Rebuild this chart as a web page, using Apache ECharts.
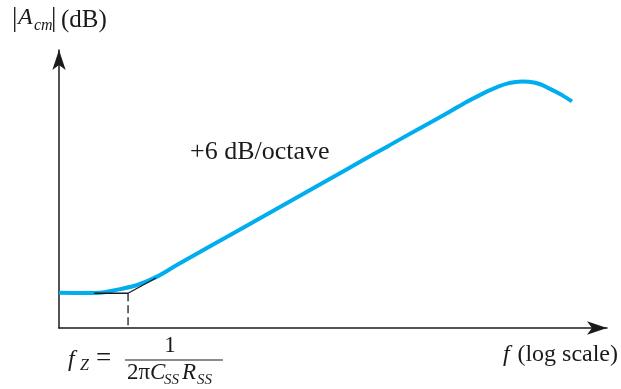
<!DOCTYPE html>
<html>
<head>
<meta charset="utf-8">
<script src="https://cdn.jsdelivr.net/npm/echarts@6/dist/echarts.min.js"></script>
<style>html,body{margin:0;padding:0;background:#fff}#c{width:621px;height:389px}</style>
</head>
<body>
<div id="c"></div>
<script>
// log-frequency position (0..100) and gain (0..100, arbitrary dB units)
var curveX = [0, 5.5, 10.9, 16.4, 21.9, 27.4, 32.8, 38.3, 43.8, 49.3, 54.7, 60.2, 65.7, 71.2, 73.9, 76.6, 79.4, 82.1, 84.5, 86.9, 89.6, 92.0, 93.6];
var curveY = [12.7, 12.6, 13.9, 17.1, 23.1, 29.2, 35.2, 41.3, 47.4, 53.5, 59.5, 65.6, 71.7, 77.7, 80.8, 83.6, 86.2, 88.1, 88.7, 88.2, 86.0, 83.5, 81.5];
var asymX = [6.4, 12.6, 17.7];
var asymY = [12.5, 12.5, 18.0];
var zeroX = [12.6, 12.6];
var zeroY = [12.5, 0];
var slopeLabel = '+6 dB/octave';
var xLabel = ['f', '(log scale)'];

function pairs(xs, ys){ return xs.map(function(x,i){ return [x, ys[i]]; }); }

var F = '"Liberation Serif", "Times New Roman", serif';
var ink = '#1a1a1a';
function t(text, x, y, size, opts){
  opts = opts || {};
  return { type:'text', x:x, y:y, silent:true, style:{ text:text, font:(opts.italic?'italic ':'') + size + 'px ' + F, fill:ink, textAlign:opts.align||'left', textVerticalAlign:'middle' } };
}

var chart = echarts.init(document.getElementById('c'), null, {renderer:'canvas'});
chart.setOption({
  animation:false,
  backgroundColor:'#fff',
  grid:{ left:59, right:14, top:50, bottom:61 },
  xAxis:{ type:'value', min:0, max:100, axisLabel:{show:false}, axisTick:{show:false}, splitLine:{show:false},
    axisLine:{ symbol:['none','arrow'], symbolSize:[10,20], lineStyle:{color:ink, width:1.5} } },
  yAxis:{ type:'value', min:0, max:100, axisLabel:{show:false}, axisTick:{show:false}, splitLine:{show:false},
    axisLine:{ symbol:['none','arrow'], symbolSize:[10,20], lineStyle:{color:ink, width:1.5} } },
  series:[
    { type:'line', data:pairs(curveX, curveY), smooth:0.5, showSymbol:false, lineStyle:{color:'#00aeef', width:4}, z:2 },
    { type:'line', data:pairs(asymX, asymY), showSymbol:false, lineStyle:{color:ink, width:1.3}, z:3 },
    { type:'line', data:pairs(zeroX, zeroY), showSymbol:false, lineStyle:{color:ink, width:1.3, type:[8,4]}, z:3 }
  ],
  graphic:[
    t('|', 12, 19, 27),
    t('A', 18, 18, 24, {italic:true}),
    t('cm', 34, 26, 16, {italic:true}),
    t('|', 51, 19, 27),
    t('(dB)', 61, 20, 25),
    t(slopeLabel, 190, 152, 26),
    t(xLabel[0], 503, 355, 24, {italic:true}),
    t(xLabel[1], 618, 355, 24, {align:'right'}),
    t('f', 68, 360, 24, {italic:true}),
    t('Z', 80, 366, 16, {italic:true}),
    t('=', 96, 359, 27),
    { type:'line', silent:true, shape:{x1:125, y1:360, x2:223, y2:360}, style:{stroke:ink, lineWidth:1.2} },
    t('1', 170, 346, 23, {align:'center'}),
    t('2\u03c0', 127, 373, 23),
    t('C', 150, 373, 23, {italic:true}),
    t('SS', 164, 380, 15, {italic:true}),
    t('R', 182, 373, 23, {italic:true}),
    t('SS', 197, 380, 15, {italic:true})
  ]
});
</script>
</body>
</html>
